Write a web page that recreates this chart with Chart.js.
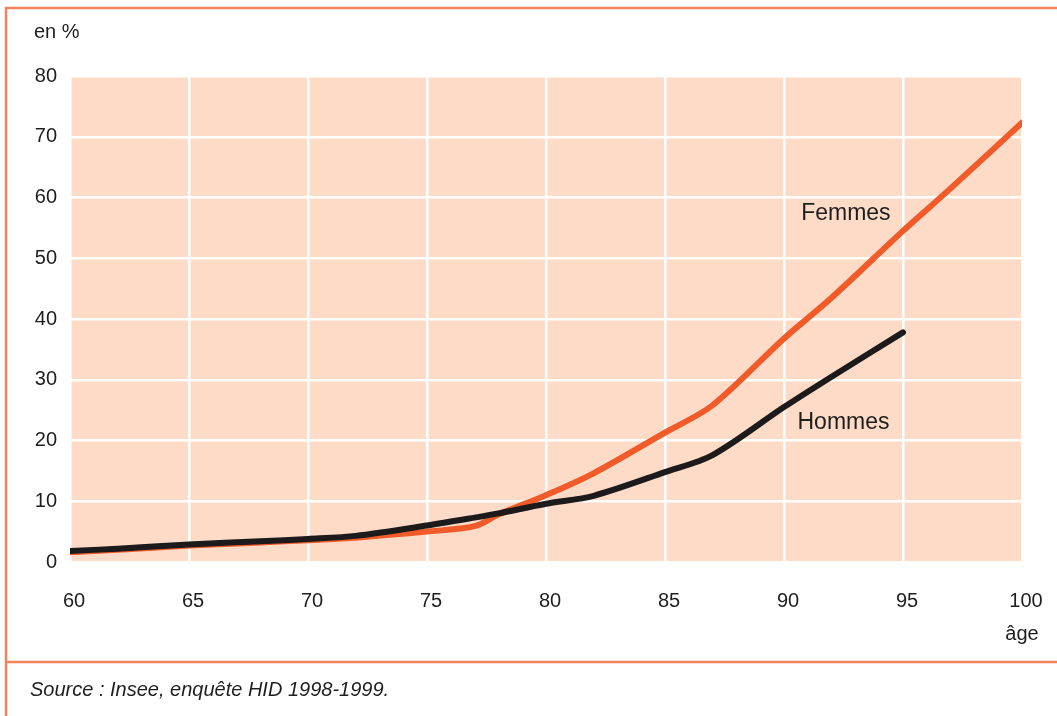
<!DOCTYPE html>
<html>
<head>
<meta charset="utf-8">
<script src="https://cdn.jsdelivr.net/npm/chart.js@4/dist/chart.umd.min.js"></script>
<style>
  html, body { margin: 0; padding: 0; background: #fff; }
  #wrap { width: 1057px; height: 716px; position: relative; }
</style>
</head>
<body>
<div id="wrap"><canvas id="myChart" width="1057" height="716"></canvas></div>
<script>
// data
const ages = [60, 62, 65, 68, 70, 72, 75, 77, 78, 80, 82, 85, 87, 90, 92, 95, 97, 100];
const hommes = [1.8, 2.2, 2.9, 3.4, 3.8, 4.3, 6.0, 7.3, 8.0, 9.6, 10.9, 14.8, 17.6, 25.5, 30.5, 37.8, null, null];
const femmes = [1.6, 2.0, 2.7, 3.2, 3.6, 4.0, 5.0, 5.9, 7.8, 11.0, 14.6, 21.3, 25.8, 36.8, 43.5, 54.5, 61.5, 72.3];
const xTicks = [60, 65, 70, 75, 80, 85, 90, 95, 100];
const yTicks = [0, 10, 20, 30, 40, 50, 60, 70, 80];

const orange = '#f15a29';
const frameColor = '#f4825c';
const textColor = '#1e1e1e';

function toPoints(values) {
    return ages.map((a, i) => ({ x: a, y: values[i] })).filter(p => p.y !== null);
}

const decor = {
    id: 'decor',
    beforeDraw(chart) {
        const { ctx, chartArea } = chart;
        ctx.save();
        ctx.fillStyle = '#fddbc7';
        ctx.fillRect(chartArea.left, chartArea.top, chartArea.right - chartArea.left, chartArea.bottom - chartArea.top);
        ctx.restore();
    },
    afterDraw(chart) {
        const { ctx, scales } = chart;
        const x = scales.x, y = scales.y;
        ctx.save();
        // frame
        ctx.strokeStyle = frameColor;
        ctx.lineWidth = 2.5;
        ctx.beginPath();
        ctx.moveTo(6, 716);
        ctx.lineTo(6, 8);
        ctx.lineTo(1057, 8);
        ctx.moveTo(6, 662);
        ctx.lineTo(1057, 662);
        ctx.stroke();

        ctx.fillStyle = textColor;
        ctx.textBaseline = 'middle';
        ctx.font = '20px "Liberation Sans", Arial, sans-serif';
        ctx.textAlign = 'left';
        ctx.fillText('en %', 34, 32);
        ctx.textAlign = 'center';
        ctx.fillText('âge', x.getPixelForValue(100), 634);

        ctx.font = '23px "Liberation Sans", Arial, sans-serif';
        ctx.fillText('Femmes', x.getPixelForValue(92.6), y.getPixelForValue(57.3));
        ctx.fillText('Hommes', x.getPixelForValue(92.5), y.getPixelForValue(22.9));

        ctx.font = 'italic 20px "Liberation Sans", Arial, sans-serif';
        ctx.textAlign = 'left';
        ctx.fillText('Source : Insee, enquête HID 1998-1999.', 30, 690);
        ctx.restore();
    }
};

new Chart(document.getElementById('myChart').getContext('2d'), {
    type: 'line',
    data: {
        datasets: [
            {
                label: 'Hommes',
                data: toPoints(hommes),
                borderColor: '#1c1a1a',
                borderWidth: 6,
                pointRadius: 0,
                tension: 0.3,
                borderCapStyle: 'round',
                fill: false
            },
            {
                label: 'Femmes',
                data: toPoints(femmes),
                borderColor: orange,
                borderWidth: 6,
                pointRadius: 0,
                tension: 0.3,
                borderCapStyle: 'round',
                fill: false
            }
        ]
    },
    options: {
        responsive: false,
        animation: false,
        layout: { padding: { top: 76, right: 35, left: 0, bottom: 0 } },
        plugins: { legend: { display: false }, tooltip: { enabled: false } },
        scales: {
            x: {
                type: 'linear',
                min: 60,
                max: 100,
                afterBuildTicks: s => { s.ticks = xTicks.map(v => ({ value: v })); },
                afterFit: s => { s.height = 154; s.paddingLeft = 0; s.paddingRight = 0; },
                grid: { color: '#fff', lineWidth: 2.5, drawTicks: false },
                border: { display: false },
                ticks: {
                    padding: 27,
                    labelOffset: 4,
                    maxRotation: 0,
                    color: textColor,
                    font: { size: 20, family: '"Liberation Sans", Arial, sans-serif' }
                }
            },
            y: {
                min: 0,
                max: 80,
                afterBuildTicks: s => { s.ticks = yTicks.map(v => ({ value: v })); },
                afterFit: s => { s.width = 70; s.paddingTop = 0; s.paddingBottom = 0; },
                grid: { color: '#fff', lineWidth: 2.5, drawTicks: false },
                border: { display: false },
                ticks: {
                    padding: 13,
                    color: textColor,
                    font: { size: 20, family: '"Liberation Sans", Arial, sans-serif' }
                }
            }
        }
    },
    plugins: [decor]
});
</script>
</body>
</html>
